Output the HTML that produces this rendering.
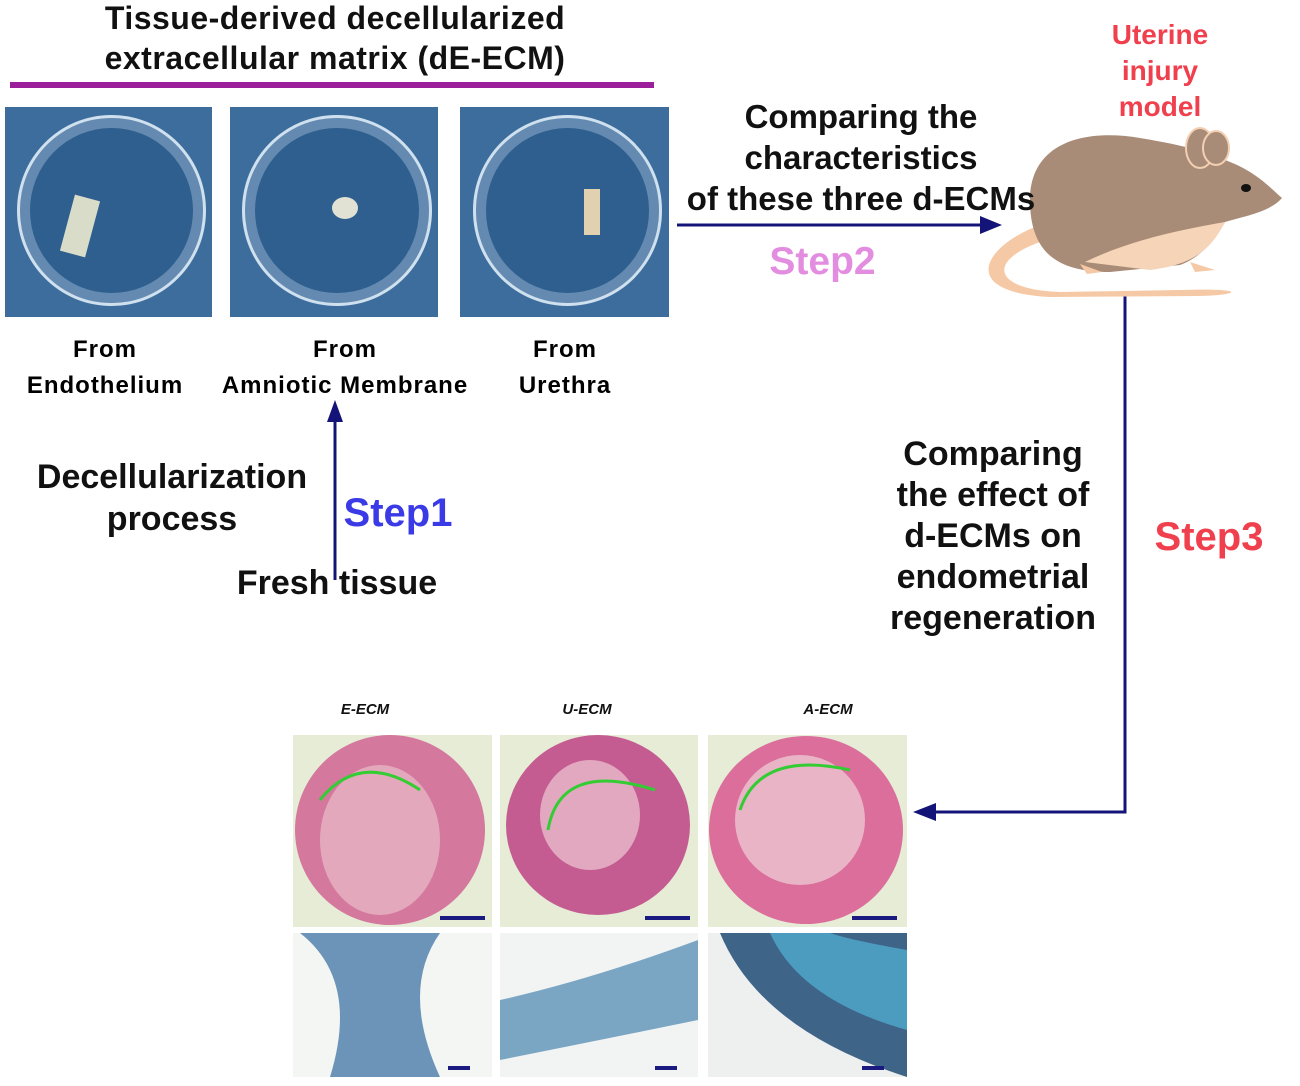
<!DOCTYPE html>
<html><head><meta charset="utf-8"><style>
body{margin:0;width:1300px;height:1086px;background:#fff;position:relative;overflow:hidden;font-family:"Liberation Sans",Arial,sans-serif;font-weight:bold}
.t{position:absolute;white-space:nowrap;text-align:center}
.dish{position:absolute;background:#3d6d9c;overflow:hidden}
.dish .c{position:absolute;left:6%;top:4%;width:88%;height:88%;border-radius:50%;border:3px solid #cfe0ee;box-shadow:inset 0 0 0 10px rgba(200,220,240,.35);background:#2f5f8f}
.lab{font-size:24px;line-height:36px;letter-spacing:1px}
</style></head><body>
<div class="t" style="left:35px;width:600px;top:-2px;font-size:32px;line-height:40px;color:#111;letter-spacing:0.5px">Tissue-derived decellularized<br>extracellular matrix (dE-ECM)</div>
<div style="position:absolute;left:10px;top:82px;width:644px;height:6px;background:#9b1e9b"></div>

<div class="dish" style="left:5px;top:107px;width:207px;height:210px"><div class="c"></div><div style="position:absolute;left:62px;top:90px;width:26px;height:58px;background:#d8dcc8;transform:rotate(15deg)"></div></div>
<div class="dish" style="left:230px;top:107px;width:208px;height:210px"><div class="c"></div><div style="position:absolute;left:102px;top:90px;width:26px;height:22px;border-radius:50%;background:#e2e2d4"></div></div>
<div class="dish" style="left:460px;top:107px;width:209px;height:210px"><div class="c"></div><div style="position:absolute;left:124px;top:82px;width:16px;height:46px;background:#e0d2b0"></div></div>

<div class="t lab" style="left:5px;width:200px;top:332px">From<br>Endothelium</div>
<div class="t lab" style="left:190px;width:310px;top:332px">From<br>Amniotic Membrane</div>
<div class="t lab" style="left:465px;width:200px;top:332px">From<br>Urethra</div>

<svg style="position:absolute;left:0;top:0" width="1300" height="1086">
<line x1="335" y1="420" x2="335" y2="580" stroke="#141478" stroke-width="3"/>
<polygon points="335,400 327,422 343,422" fill="#141478"/>
<line x1="677" y1="225" x2="985" y2="225" stroke="#141478" stroke-width="3"/>
<polygon points="1002,225 980,216 980,234" fill="#141478"/>
<polyline points="1125,295 1125,812 935,812" fill="none" stroke="#141478" stroke-width="3"/>
<polygon points="913,812 936,803 936,821" fill="#141478"/>
<path d="M1040,225 C985,245 955,292 1050,297 L1200,296 C1240,295 1250,288 1180,290 L1060,292 C995,290 985,262 1040,242Z" fill="#f6c9a6"/>
<path d="M1030,200 C1030,145 1080,128 1140,138 C1175,144 1195,148 1225,160 C1258,172 1272,190 1282,198 C1270,212 1245,216 1225,222 C1215,240 1200,258 1180,265 L1110,272 C1060,272 1030,255 1030,200Z" fill="#a98c77"/>
<path d="M1085,262 C1130,240 1180,230 1225,222 C1210,252 1190,265 1150,270Z" fill="#f6d4b8"/>
<ellipse cx="1200" cy="148" rx="14" ry="20" fill="#a98c77" stroke="#f3cfb3" stroke-width="2"/>
<ellipse cx="1216" cy="148" rx="13" ry="17" fill="#a98c77" stroke="#f3cfb3" stroke-width="2"/>
<ellipse cx="1246" cy="188" rx="5" ry="4" fill="#111"/>
<path d="M1080,264 l22,8 l-15,2Z M1190,262 l25,8 l-20,2Z" fill="#f6c9a6"/>
</svg>
<div class="t" style="left:1085px;width:150px;top:17px;font-size:28px;line-height:36px;color:#f0404e">Uterine<br>injury<br>model</div>

<div class="t" style="left:656px;width:410px;top:96px;font-size:33px;line-height:41px;color:#111">Comparing the<br>characteristics<br>of these three d-ECMs</div>
<div class="t" style="left:760px;width:125px;top:240px;font-size:39px;color:#e28de0">Step2</div>

<div class="t" style="left:12px;width:320px;top:456px;font-size:34px;line-height:42px;color:#111">Decellularization<br>process</div>
<div class="t" style="left:338px;width:120px;top:491px;font-size:40px;color:#3a3ae6">Step1</div>
<div class="t" style="left:222px;width:230px;top:564px;font-size:34px;color:#111">Fresh tissue</div>

<div class="t" style="left:863px;width:260px;top:434px;font-size:34px;line-height:41px;color:#111">Comparing<br>the effect of<br>d-ECMs on<br>endometrial<br>regeneration</div>
<div class="t" style="left:1148px;width:122px;top:515px;font-size:40px;color:#f0404e">Step3</div>

<div class="t" style="left:315px;width:100px;top:701px;font-size:15px;font-style:italic;color:#111">E-ECM</div>
<div class="t" style="left:537px;width:100px;top:701px;font-size:15px;font-style:italic;color:#111">U-ECM</div>
<div class="t" style="left:778px;width:100px;top:701px;font-size:15px;font-style:italic;color:#111">A-ECM</div>

<svg style="position:absolute;left:0;top:0" width="1300" height="1086">
<rect x="293" y="735" width="199" height="192" fill="#e6ecd6"/>
<rect x="500" y="735" width="198" height="192" fill="#e6ecd6"/>
<rect x="708" y="735" width="199" height="192" fill="#e6ecd6"/>
<ellipse cx="390" cy="830" rx="95" ry="95" fill="#d4789e"/>
<ellipse cx="380" cy="840" rx="60" ry="75" fill="#e4a8bc"/>
<ellipse cx="598" cy="825" rx="92" ry="90" fill="#c45c92"/>
<ellipse cx="590" cy="815" rx="50" ry="55" fill="#e2a8c0"/>
<ellipse cx="806" cy="830" rx="97" ry="94" fill="#dc6e9c"/>
<ellipse cx="800" cy="820" rx="65" ry="65" fill="#e8b4c6"/>
<path d="M320,800 Q360,750 420,790" stroke="#3c3" stroke-width="3" fill="none"/>
<path d="M548,830 Q560,760 655,790" stroke="#3c3" stroke-width="3" fill="none"/>
<path d="M740,810 Q760,750 850,770" stroke="#3c3" stroke-width="3" fill="none"/>
<line x1="440" y1="918" x2="485" y2="918" stroke="#1a1a80" stroke-width="4"/>
<line x1="645" y1="918" x2="690" y2="918" stroke="#1a1a80" stroke-width="4"/>
<line x1="852" y1="918" x2="897" y2="918" stroke="#1a1a80" stroke-width="4"/>
<rect x="293" y="933" width="199" height="144" fill="#f4f6f4"/>
<path d="M300,933 Q360,980 330,1077 L440,1077 Q400,990 440,933Z" fill="#6c94b8"/>
<rect x="500" y="933" width="198" height="144" fill="#f2f4f4"/>
<path d="M500,1000 Q590,980 698,940 L698,1020 Q600,1040 500,1060Z" fill="#7aa6c4"/>
<rect x="708" y="933" width="199" height="144" fill="#eef0f0"/>
<path d="M720,933 Q760,1030 907,1077 L907,933Z" fill="#3e6488"/>
<path d="M770,933 Q800,1000 907,1030 L907,950 Q850,940 830,933Z" fill="#4c9cc0"/>
<line x1="448" y1="1068" x2="470" y2="1068" stroke="#1a1a80" stroke-width="4"/>
<line x1="655" y1="1068" x2="677" y2="1068" stroke="#1a1a80" stroke-width="4"/>
<line x1="862" y1="1068" x2="884" y2="1068" stroke="#1a1a80" stroke-width="4"/>
</svg>
</body></html>
